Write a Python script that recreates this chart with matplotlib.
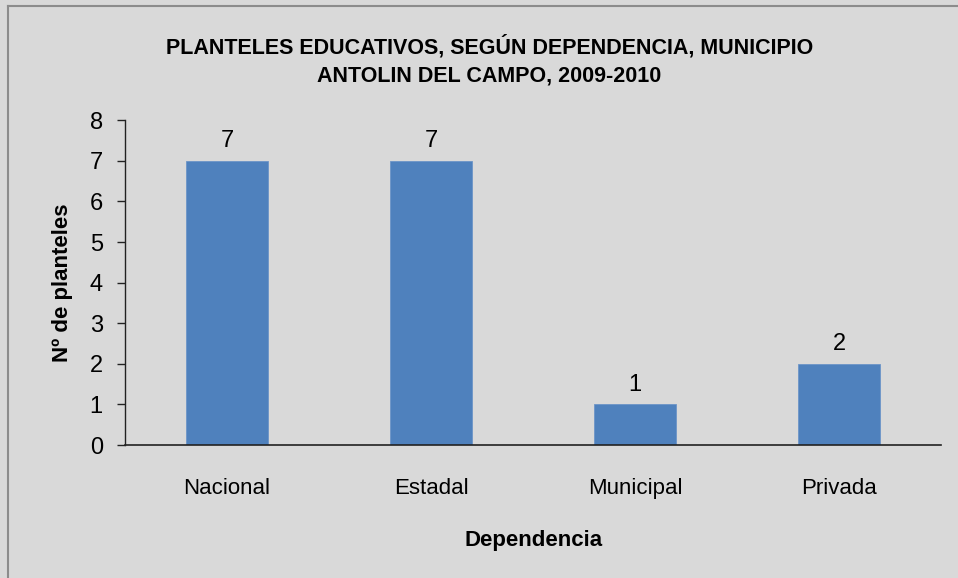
import matplotlib
matplotlib.use("Agg")
import matplotlib.pyplot as plt
from matplotlib import font_manager
from matplotlib.lines import Line2D

categories = ["Nacional", "Estadal", "Municipal", "Privada"]
values = [7, 7, 1, 2]
yticks = [0, 1, 2, 3, 4, 5, 6, 7, 8]
title = "PLANTELES EDUCATIVOS, SEGÚN DEPENDENCIA, MUNICIPIO\nANTOLIN DEL CAMPO, 2009-2010"
xlabel = "Dependencia"
ylabel = "Nº de planteles"

names = {f.name for f in font_manager.fontManager.ttflist}
fam = "Liberation Sans Narrow" if "Liberation Sans Narrow" in names else "Liberation Sans"
plt.rcParams["font.family"] = [fam, "DejaVu Sans"]

bg = "#d9d9d9"
fig = plt.figure(figsize=(9.58, 5.78), dpi=100, facecolor=bg)
ax = fig.add_axes([0.1305, 0.230, 0.852, 0.562])
ax.set_facecolor(bg)

x = list(range(len(categories)))
bars = ax.bar(x, values, width=0.4, color="#4f81bd", edgecolor="#6c95c8", linewidth=0.6, zorder=2)
for xi, v in zip(x, values):
    ax.text(xi, v + 0.22, str(v), ha="center", va="bottom", fontsize=17, color="black")

ax.set_xlim(-0.5, len(categories) - 0.5)
ax.set_ylim(0, 8)
ax.set_yticks(yticks)
ax.set_yticklabels([str(t) for t in yticks], fontsize=17)
ax.set_xticks(x)
ax.set_xticklabels(categories, fontsize=16)
ax.tick_params(axis="x", length=0, pad=24)
ax.tick_params(axis="y", length=6, width=1, direction="out", pad=10, color="#222222")
for s in ["top", "right"]:
    ax.spines[s].set_visible(False)
ax.spines["left"].set_color("#222222")
ax.spines["bottom"].set_color("#222222")
ax.spines["left"].set_linewidth(1)
ax.spines["bottom"].set_linewidth(1.2)

ax.set_xlabel(xlabel, fontsize=16, fontweight="bold", labelpad=22)
ax.set_ylabel(ylabel, fontsize=16, fontweight="bold", labelpad=12)

fig.text(0.511, 0.895, title, ha="center", va="center", fontsize=15.5,
         fontweight="bold", linespacing=1.45)

# outer chart border (top and left visible)
fig.add_artist(Line2D([8/958, 8/958], [0, 1 - 6/578], transform=fig.transFigure, color="#8c8c8c", lw=1.5))
fig.add_artist(Line2D([8/958, 1], [1 - 6/578, 1 - 6/578], transform=fig.transFigure, color="#8c8c8c", lw=1.5))

fig.savefig("out.png", dpi=100, facecolor=bg)
